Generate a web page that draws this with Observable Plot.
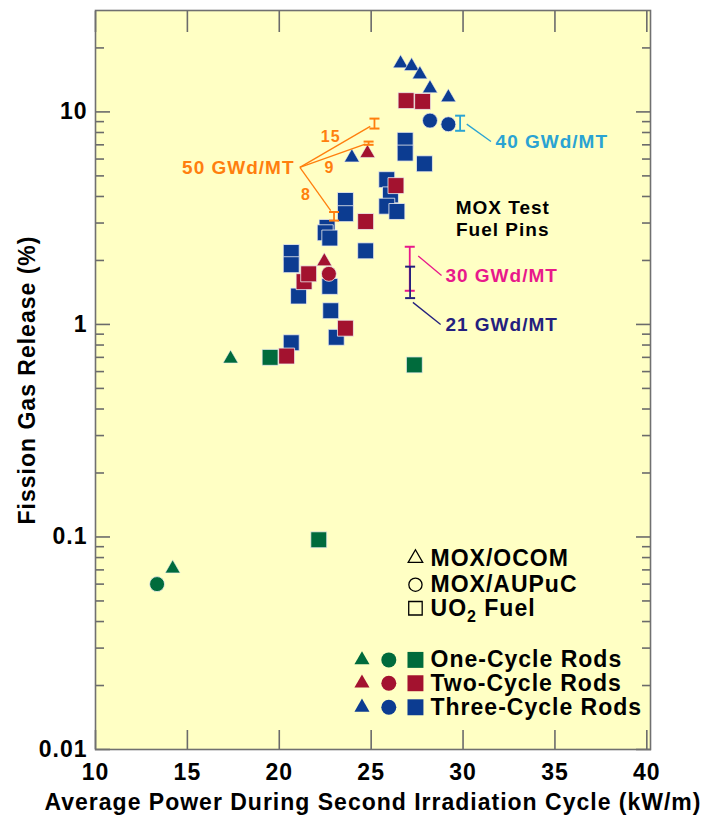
<!DOCTYPE html>
<html><head><meta charset="utf-8">
<script src="https://cdn.jsdelivr.net/npm/d3@7"></script>
<script src="https://cdn.jsdelivr.net/npm/@observablehq/plot@0.6"></script>
<style>
body{margin:0;background:#fff;}
#chart svg{display:block;}
</style></head><body><div id="chart"></div>
<script>
// ---- data ----
const cycles = ["One-Cycle Rods", "Two-Cycle Rods", "Three-Cycle Rods"];
const cycleColors = ["#006b3c", "#a3122f", "#0c3c91"];
const fuelTypes = ["MOX/OCOM", "MOX/AUPuC", "UO2 Fuel"];

// MOX/OCOM pins (triangles): cycle, average power (kW/m), fission gas release (%)
const moxOcom = [
  {cycle: 1, power: 14.2, fgr: 0.071},
  {cycle: 1, power: 17.35, fgr: 0.69},
  {cycle: 2, power: 24.8, fgr: 6.4},
  {cycle: 2, power: 22.45, fgr: 1.98},
  {cycle: 3, power: 26.6, fgr: 16.9},
  {cycle: 3, power: 27.2, fgr: 16.4},
  {cycle: 3, power: 27.65, fgr: 15.0},
  {cycle: 3, power: 28.2, fgr: 12.9},
  {cycle: 3, power: 29.2, fgr: 11.7},
  {cycle: 3, power: 23.95, fgr: 6.1}
];
// MOX/AUPuC pins (circles)
const moxAupuc = [
  {cycle: 1, power: 13.35, fgr: 0.06},
  {cycle: 2, power: 22.7, fgr: 1.73},
  {cycle: 3, power: 28.2, fgr: 9.1},
  {cycle: 3, power: 29.2, fgr: 8.75}
];
// UO2 fuel (squares)
const uo2 = [
  {cycle: 3, power: 26.85, fgr: 7.35},
  {cycle: 3, power: 26.85, fgr: 6.4},
  {cycle: 3, power: 27.9, fgr: 5.7},
  {cycle: 3, power: 25.85, fgr: 4.8},
  {cycle: 3, power: 26.05, fgr: 4.07},
  {cycle: 3, power: 25.85, fgr: 3.6},
  {cycle: 3, power: 26.4, fgr: 3.4},
  {cycle: 3, power: 23.6, fgr: 3.83},
  {cycle: 3, power: 23.6, fgr: 3.32},
  {cycle: 3, power: 22.6, fgr: 2.86},
  {cycle: 3, power: 22.5, fgr: 2.7},
  {cycle: 3, power: 22.75, fgr: 2.55},
  {cycle: 3, power: 24.7, fgr: 2.22},
  {cycle: 3, power: 20.65, fgr: 2.18},
  {cycle: 3, power: 20.65, fgr: 1.91},
  {cycle: 3, power: 22.75, fgr: 1.51},
  {cycle: 3, power: 21.05, fgr: 1.36},
  {cycle: 3, power: 22.8, fgr: 1.16},
  {cycle: 3, power: 23.1, fgr: 0.87},
  {cycle: 3, power: 20.65, fgr: 0.82},
  {cycle: 2, power: 26.9, fgr: 11.3},
  {cycle: 2, power: 27.8, fgr: 11.2},
  {cycle: 2, power: 24.7, fgr: 3.05},
  {cycle: 2, power: 26.35, fgr: 4.5},
  {cycle: 2, power: 21.35, fgr: 1.59},
  {cycle: 2, power: 21.6, fgr: 1.73},
  {cycle: 2, power: 23.6, fgr: 0.96},
  {cycle: 2, power: 20.4, fgr: 0.71},
  {cycle: 1, power: 19.5, fgr: 0.70},
  {cycle: 1, power: 27.35, fgr: 0.645},
  {cycle: 1, power: 22.15, fgr: 0.097}
];

// MOX test fuel pin ranges by burnup
const burnupGroups = ["50", "40", "30", "21"];
const burnupColors = ["#ff7f0e", "#2aa3d3", "#e8198b", "#24207e"];
const burnupBars = [
  {group: "50", power: 25.18, lo: 8.35, hi: 9.3},
  {group: "50", power: 24.86, lo: 7.0, hi: 7.25},
  {group: "50", power: 22.98, lo: 3.08, hi: 3.38},
  {group: "40", power: 29.84, lo: 8.15, hi: 9.6},
  {group: "30", power: 27.1, lo: 1.44, hi: 2.32},
  {group: "21", power: 27.12, lo: 1.33, hi: 1.87}
];
const leaderLines = [
  {group: "50", x1: 21.12, y1: 5.48, x2: 24.95, y2: 8.55},
  {group: "50", x1: 21.12, y1: 5.48, x2: 24.68, y2: 7.05},
  {group: "50", x1: 21.12, y1: 5.48, x2: 22.8, y2: 3.43},
  {group: "40", x1: 30.2, y1: 8.76, x2: 31.52, y2: 7.26},
  {group: "30", x1: 27.56, y1: 2.1, x2: 28.83, y2: 1.70},
  {group: "21", x1: 27.27, y1: 1.27, x2: 28.78, y2: 1.0}
];
const burnupLabels = [
  {group: "50", text: "50 GWd/MT", power: 20.83, fgr: 5.44, anchor: "end"},
  {group: "40", text: "40 GWd/MT", power: 31.77, fgr: 7.26, anchor: "start"},
  {group: "30", text: "30 GWd/MT", power: 29.04, fgr: 1.69, anchor: "start"},
  {group: "21", text: "21 GWd/MT", power: 29.04, fgr: 1.0, anchor: "start"}
];
const pinLabels = [
  {text: "15", power: 22.8, fgr: 7.6},
  {text: "9", power: 22.73, fgr: 5.48},
  {text: "8", power: 21.45, fgr: 4.07}
];
const noteLines = [
  {text: "MOX Test", power: 32.16, fgr: 3.55},
  {text: "Fuel Pins", power: 32.16, fgr: 2.79}
];

// legend anchor rows (data coordinates)
const shapeLegend = [
  {label: "MOX/OCOM", fgr: 0.0795},
  {label: "MOX/AUPuC", fgr: 0.0596},
  {label: "UO2 Fuel", fgr: 0.0462}
];
const cycleLegend = [
  {cycle: 1, label: "One-Cycle Rods", fgr: 0.0264},
  {cycle: 2, label: "Two-Cycle Rods", fgr: 0.0205},
  {cycle: 3, label: "Three-Cycle Rods", fgr: 0.0158}
];
const legendSymbolX = [24.5, 25.96, 27.41];
const legendTextX = 28.23;

// ticks
const xTicks = [10, 15, 20, 25, 30, 35, 40];
const yMajor = [0.01, 0.1, 1, 10];
const yMinor = yMajor.flatMap(d => [2,3,4,5,6,7,8,9].map(k => +(d * k).toPrecision(3))).filter(v => v < 29);

// ---- drawing ----
const capSymbol = {draw(ctx, size) { const w = Math.sqrt(size / Math.PI); ctx.moveTo(-w, 0); ctx.lineTo(w, 0); }};
const gColor = g => burnupColors[burnupGroups.indexOf(g)];
const tickStroke = "#6b6b6b";
const font = 23;

const marks = [
  Plot.frame({fill: "#FFFFC4", stroke: null}),
  // inner ticks
  Plot.axisY({anchor: "left", ticks: yMajor, tickSize: -15, tickFormat: () => "", stroke: tickStroke, strokeWidth: 1.6, label: null}),
  Plot.axisY({anchor: "left", ticks: yMinor, tickSize: -9, tickFormat: () => "", stroke: tickStroke, strokeWidth: 1.6, label: null}),
  Plot.axisY({anchor: "right", ticks: yMajor, tickSize: -15, tickFormat: () => "", stroke: tickStroke, strokeWidth: 1.6, label: null}),
  Plot.axisY({anchor: "right", ticks: yMinor, tickSize: -9, tickFormat: () => "", stroke: tickStroke, strokeWidth: 1.6, label: null}),
  Plot.axisX({anchor: "bottom", ticks: xTicks, tickSize: -19, tickFormat: () => "", stroke: tickStroke, strokeWidth: 1.6, label: null}),
  Plot.axisX({anchor: "top", ticks: xTicks, tickSize: -21, tickFormat: () => "", stroke: tickStroke, strokeWidth: 1.6, label: null}),
  // tick labels
  Plot.axisY({anchor: "left", ticks: yMajor, tickSize: 0, tickPadding: 8, tickFormat: d => String(d), fontSize: font, fill: "#000", label: null}),
  Plot.axisX({anchor: "bottom", ticks: xTicks, tickSize: 0, tickPadding: 14, tickFormat: d => String(d), fontSize: font, fill: "#000", label: null}),
  // axis titles
  Plot.text(["Average Power During Second Irradiation Cycle (kW/m)"], {frameAnchor: "bottom", dy: 60, textAnchor: "middle", fontSize: font, fill: "#000"}),
  Plot.text(["Fission Gas Release (%)"], {frameAnchor: "left", dx: -68, rotate: -90, textAnchor: "middle", fontSize: font, fill: "#000"}),
  // data
  Plot.dot(uo2, {x: "power", y: "fgr", symbol: "square", r: 9, fill: "cycle", stroke: "#eeeeee", strokeWidth: 0.8}),
  Plot.dot(moxAupuc, {x: "power", y: "fgr", symbol: "circle", r: 7.5, fill: "cycle", stroke: "#eeeeee", strokeWidth: 0.8}),
  Plot.dot(moxOcom, {x: "power", y: "fgr", symbol: "triangle", r: 5.6, fill: "cycle", stroke: "#eeeeee", strokeWidth: 0.6}),
  // burnup ranges
  ...burnupGroups.flatMap(g => {
    const c = gColor(g);
    const bars = burnupBars.filter(d => d.group === g);
    return [
      Plot.link(leaderLines.filter(d => d.group === g), {x1: "x1", y1: "y1", x2: "x2", y2: "y2", stroke: c, strokeWidth: 1.3}),
      Plot.ruleX(bars, {x: "power", y1: "lo", y2: "hi", stroke: c, strokeWidth: 1.8}),
      Plot.dot(bars, {x: "power", y: "lo", symbol: capSymbol, r: 5, fill: "none", stroke: c, strokeWidth: 2}),
      Plot.dot(bars, {x: "power", y: "hi", symbol: capSymbol, r: 5, fill: "none", stroke: c, strokeWidth: 2}),
      Plot.text(burnupLabels.filter(d => d.group === g), {x: "power", y: "fgr", text: "text", textAnchor: "end", fill: c, fontSize: 19})
    ];
  }),
  Plot.text(pinLabels, {x: "power", y: "fgr", text: "text", fill: gColor("50"), fontSize: 16}),
  Plot.text(noteLines, {x: "power", y: "fgr", text: "text", fill: "#000", fontSize: 19}),
  // legend: fuel types
  Plot.dot(shapeLegend.slice(0, 1), {x: () => legendSymbolX[2], y: "fgr", symbol: "triangle", r: 5.4, fill: "none", stroke: "#000", strokeWidth: 1.3}),
  Plot.dot(shapeLegend.slice(1, 2), {x: () => legendSymbolX[2], y: "fgr", symbol: "circle", r: 6.6, fill: "none", stroke: "#000", strokeWidth: 1.3}),
  Plot.dot(shapeLegend.slice(2, 3), {x: () => legendSymbolX[2], y: "fgr", symbol: "square", r: 7.6, fill: "none", stroke: "#000", strokeWidth: 1.3}),
  Plot.text(shapeLegend, {x: () => legendTextX, y: "fgr", text: "label", textAnchor: "start", fill: "#000", fontSize: font}),
  // legend: cycles
  Plot.dot(cycleLegend, {x: () => legendSymbolX[0], y: "fgr", symbol: "triangle", r: 5.6, fill: "cycle"}),
  Plot.dot(cycleLegend, {x: () => legendSymbolX[1], y: "fgr", symbol: "circle", r: 7.5, fill: "cycle"}),
  Plot.dot(cycleLegend, {x: () => legendSymbolX[2], y: "fgr", symbol: "square", r: 9, fill: "cycle"}),
  Plot.text(cycleLegend, {x: () => legendTextX, y: "fgr", text: "label", textAnchor: "start", fill: "#000", fontSize: font}),
  Plot.frame({stroke: "#707070", strokeWidth: 1.6})
];

const chart = Plot.plot({
  width: 704,
  height: 823,
  marginLeft: 95,
  marginRight: 54,
  marginTop: 10,
  marginBottom: 74,
  x: {type: "linear", domain: [10, 40.2], label: null},
  y: {type: "log", domain: [0.01, 30], label: null},
  color: {type: "ordinal", domain: [1, 2, 3], range: cycleColors},
  style: {fontFamily: "'Liberation Sans', Arial, Helvetica, sans-serif", fontWeight: "bold", fontSize: "23px", letterSpacing: "1px", background: "#fff", color: "#000", overflow: "visible"},
  marks
});

// start-anchored burnup labels and the UO2 subscript
d3.select(chart).selectAll("text").each(function() {
  const t = this.textContent;
  const lab = burnupLabels.find(d => d.text === t);
  if (lab && lab.anchor === "start") this.setAttribute("text-anchor", "start");
  if (t === "UO2 Fuel") {
    this.textContent = "";
    const s = d3.select(this);
    s.append("tspan").text("UO");
    s.append("tspan").attr("dy", 6).attr("font-size", 16).text("2");
    s.append("tspan").attr("dy", -6).text(" Fuel");
  }
});
document.getElementById("chart").appendChild(chart);
</script>
</body></html>
